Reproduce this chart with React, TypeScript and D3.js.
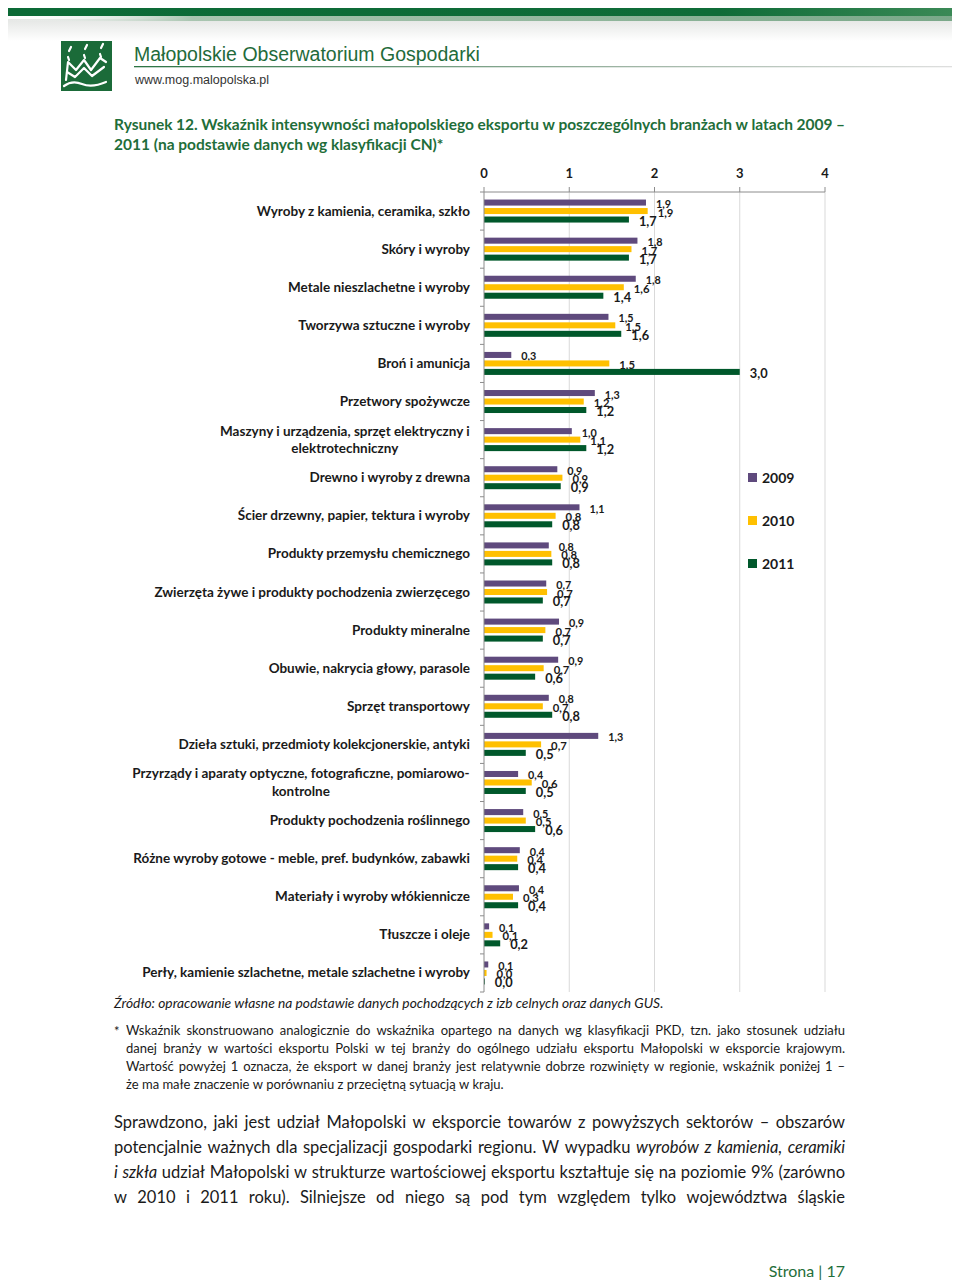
import * as d3 from "d3";

// --- data ---
const categories = [
  "Wyroby z kamienia, ceramika, szkło",
  "Skóry i wyroby",
  "Metale nieszlachetne i wyroby",
  "Tworzywa sztuczne i wyroby",
  "Broń i amunicja",
  "Przetwory spożywcze",
  "Maszyny i urządzenia, sprzęt elektryczny i\nelektrotechniczny",
  "Drewno i wyroby z drewna",
  "Ścier drzewny, papier, tektura i wyroby",
  "Produkty przemysłu chemicznego",
  "Zwierzęta żywe i produkty pochodzenia zwierzęcego",
  "Produkty mineralne",
  "Obuwie, nakrycia głowy, parasole",
  "Sprzęt transportowy",
  "Dzieła sztuki, przedmioty kolekcjonerskie, antyki",
  "Przyrządy i aparaty optyczne, fotograficzne, pomiarowo-\nkontrolne",
  "Produkty pochodzenia roślinnego",
  "Różne wyroby gotowe - meble, pref. budynków, zabawki",
  "Materiały i wyroby włókiennicze",
  "Tłuszcze i oleje",
  "Perły, kamienie szlachetne, metale szlachetne i wyroby",
];
const v2009 = [1.9, 1.8, 1.78, 1.46, 0.32, 1.3, 1.03, 0.86, 1.12, 0.76, 0.73, 0.88, 0.87, 0.76, 1.34, 0.4, 0.46, 0.42, 0.41, 0.06, 0.05];
const v2010 = [1.92, 1.73, 1.64, 1.54, 1.47, 1.17, 1.13, 0.92, 0.84, 0.79, 0.74, 0.72, 0.7, 0.69, 0.67, 0.56, 0.49, 0.39, 0.34, 0.1, 0.03];
const v2011 = [1.7, 1.7, 1.4, 1.61, 3.0, 1.2, 1.2, 0.9, 0.8, 0.8, 0.69, 0.69, 0.6, 0.8, 0.49, 0.49, 0.6, 0.4, 0.4, 0.19, 0.01];
const years = ["2009", "2010", "2011"];
const seriesValues = [v2009, v2010, v2011];
const colors = ["#5f4a7d", "#ffc000", "#00582b"];
const labelSizes = [10.8, 11.3, 12.8];
const xTicks = [0, 1, 2, 3, 4];

type Seg = { t: string; i?: boolean };

const titleLines: Seg[][] = [
  [{ t: "Rysunek 12. Wskaźnik intensywności małopolskiego eksportu w poszczególnych branżach w latach 2009 –" }],
  [{ t: "2011 (na podstawie danych wg klasyfikacji CN)*" }],
];
const noteLines: Seg[][] = [
  [{ t: "Wskaźnik skonstruowano analogicznie do wskaźnika opartego na danych wg klasyfikacji PKD, tzn. jako stosunek udziału" }],
  [{ t: "danej branży w wartości eksportu Polski w tej branży do ogólnego udziału eksportu Małopolski w eksporcie krajowym." }],
  [{ t: "Wartość powyżej 1 oznacza, że eksport w danej branży jest relatywnie dobrze rozwinięty w regionie, wskaźnik poniżej 1 –" }],
  [{ t: "że ma małe znaczenie w porównaniu z przeciętną sytuacją w kraju." }],
];
const bodyLines: Seg[][] = [
  [{ t: "Sprawdzono, jaki jest udział Małopolski w eksporcie towarów z powyższych sektorów – obszarów" }],
  [{ t: "potencjalnie ważnych dla specjalizacji gospodarki regionu. W wypadku" }, { t: "wyrobów z kamienia, ceramiki", i: true }],
  [{ t: "i szkła", i: true }, { t: "udział Małopolski w strukturze wartościowej eksportu kształtuje się na poziomie 9% (zarówno" }],
  [{ t: "w 2010 i 2011 roku). Silniejsze od niego są pod tym względem tylko województwa śląskie" }],
];

const FONT = "Lato, 'Open Sans', sans-serif";

const ctx = document.createElement("canvas").getContext("2d")!;
const measure = (t: string, font: string) => {
  ctx.font = font;
  return ctx.measureText(t).width;
};

// justified paragraph, words placed one by one
function Paragraph(props: {
  lines: Seg[][]; x: number; y: number; lh: number; width: number; size: number;
  weight?: number; color?: string; justifyLast?: boolean;
}) {
  const { lines, x, y, lh, width, size, weight = 400, color = "#1a1a1a", justifyLast = false } = props;
  const font = (it: boolean, s: number) => `${it ? "italic " : ""}${weight} ${s}px Lato`;
  const words = lines.map((l) =>
    l.flatMap((seg) => seg.t.split(" ").filter((w) => w).map((w) => ({ w, i: !!seg.i })))
  );
  let s = size;
  words.forEach((ws, li) => {
    if (li === lines.length - 1 && !justifyLast) return;
    const nat = d3.sum(ws, (d) => measure(d.w, font(d.i, size))) + (ws.length - 1) * measure(" ", font(false, size)) * 0.7;
    if (nat > width) s = Math.min(s, (size * width) / nat);
  });
  return (
    <g fill={color} fontFamily={FONT} fontSize={s} fontWeight={weight}>
      {words.map((ws, li) => {
        const widths = ws.map((d) => measure(d.w, font(d.i, s)));
        const justify = li < lines.length - 1 || justifyLast;
        const gap = justify ? (width - d3.sum(widths)) / (ws.length - 1) : measure(" ", font(false, s));
        let cx = x;
        return ws.map((d, wi) => {
          const px = cx;
          cx += widths[wi] + gap;
          return (
            <text key={li + "-" + wi} x={px} y={y + li * lh} fontStyle={d.i ? "italic" : "normal"}>
              {d.w}
            </text>
          );
        });
      })}
    </g>
  );
}

const App = () => {
  const x = d3.scaleLinear().domain([0, 4]).range([484, 825]);
  const y = d3.scaleBand<string>().domain(categories).range([192, 992]);
  const inner = d3.scaleBand<string>().domain(years).range([-11.5, 11.5]).paddingInner(0.29);
  const fmt = (v: number) => v.toFixed(1).replace(".", ",");
  const legendY = d3.scalePoint<string>().domain(years).range([478, 564]);
  const catFont = "700 13.5px Lato";

  return (
    <svg width={960} height={1282} style={{ display: "block", margin: "-8px 0 0 -8px" }}>
      <defs>
        <linearGradient id="band" x1="0" x2="1" y1="0" y2="0">
          <stop offset="0" stopColor="#0c6a36" />
          <stop offset="0.75" stopColor="#0f6c38" />
          <stop offset="1" stopColor="#3c8a57" />
        </linearGradient>
        <linearGradient id="fringe" x1="0" x2="1" y1="0" y2="0">
          <stop offset="0" stopColor="#ffffff" stopOpacity="0" />
          <stop offset="0.2" stopColor="#a9c5b0" />
          <stop offset="1" stopColor="#7aa889" />
        </linearGradient>
        <linearGradient id="shade" x1="0" x2="0" y1="0" y2="1">
          <stop offset="0" stopColor="#e4e6e4" />
          <stop offset="1" stopColor="#ffffff" />
        </linearGradient>
        <linearGradient id="rule" x1="0" x2="1" y1="0" y2="0">
          <stop offset="0" stopColor="#2c7444" />
          <stop offset="0.6" stopColor="#9fb5a5" />
          <stop offset="1" stopColor="#e0e0e0" />
        </linearGradient>
      </defs>

      {/* header */}
      <rect x={0} y={0} width={960} height={1282} fill="#fff" />
      <rect x={0} y={19} width={960} height={22} fill="url(#shade)" />
      <rect x={0} y={15} width={960} height={6} fill="url(#fringe)" />
      <rect x={0} y={0} width={960} height={16} fill="url(#band)" />
      <rect x={0} y={0} width={960} height={2} fill="#2f8a52" opacity={0.6} />

      <rect x={61} y={41} width={51} height={50} fill="#1b6b39" />
      <g stroke="#fff" strokeWidth={2.2} fill="none" strokeLinecap="round" strokeLinejoin="round">
        <path d="M69 51 l2 -4 M85 49 l2 -4 M101 48 l2 -4" />
        <path d="M68 57 l1 3 M84 55 l1 3 M100 54 l1 3" />
        <path d="M66 80 L68 62 L76 70 L84 60 L91 70 L100 58 L106 62" />
        <path d="M67 72 L75 77 L84 68 L92 76 L104 67" />
        <path d="M64 86 Q72 80 82 84 T106 82" />
      </g>
      <text x={134} y={61} fontFamily="'Liberation Sans', Arial, sans-serif" fontSize={19.5} fill="#1f6b3b">
        Małopolskie Obserwatorium Gospodarki
      </text>
      <rect x={134} y={66} width={826} height={1.3} fill="url(#rule)" />
      <text x={135} y={84} fontFamily="'Liberation Sans', Arial, sans-serif" fontSize={12.5} fill="#333">
        www.mog.malopolska.pl
      </text>

      {/* title */}
      <Paragraph lines={titleLines} x={114} y={130} lh={19.5} width={731} size={15.5} weight={700} color="#1f6e3a" />

      {/* grid */}
      {xTicks.filter((t) => t > 0).map((t) => (
        <line key={t} x1={x(t)} x2={x(t)} y1={192} y2={992} stroke="#d9d9d9" strokeWidth={1} />
      ))}

      {/* top axis */}
      <line x1={x(0)} x2={x(4)} y1={192} y2={192} stroke="#8c8c8c" />
      {xTicks.map((t) => (
        <g key={t}>
          <line x1={x(t)} x2={x(t)} y1={187} y2={192} stroke="#8c8c8c" />
          <text x={x(t)} y={178} textAnchor="middle" fontFamily={FONT} fontWeight={700} fontSize={13} fill="#1a1a1a">
            {t}
          </text>
        </g>
      ))}

      {/* bars */}
      {seriesValues.map((vals, si) =>
        vals.map((v, ci) => {
          const c = categories[ci];
          const cy = (y(c) as number) + y.bandwidth() / 2;
          const by = cy + (inner(years[si]) as number);
          return (
            <g key={si + "-" + ci}>
              <rect x={x(0)} y={by} width={x(v) - x(0)} height={inner.bandwidth()} fill={colors[si]} />
              <text
                x={x(v) + 10}
                y={by + inner.bandwidth() / 2 + 1}
                dominantBaseline="central"
                fontFamily={FONT}
                fontWeight={700}
                fontSize={labelSizes[si]}
                fill="#1a1a1a"
              >
                {fmt(v)}
              </text>
            </g>
          );
        })
      )}

      {/* left axis */}
      <line x1={x(0)} x2={x(0)} y1={192} y2={992} stroke="#8c8c8c" />
      {categories.map((c) => (
        <line key={c} x1={x(0) - 4} x2={x(0)} y1={y(c)} y2={y(c)} stroke="#8c8c8c" />
      ))}
      <line x1={x(0) - 4} x2={x(0)} y1={992} y2={992} stroke="#8c8c8c" />

      {/* category labels */}
      {categories.map((c) => {
        const cy = (y(c) as number) + y.bandwidth() / 2;
        const parts = c.split("\n");
        if (parts.length === 1) {
          return (
            <text key={c} x={470} y={cy + 4.5} textAnchor="end" fontFamily={FONT} fontWeight={700} fontSize={13.5} fill="#1a1a1a">
              {c}
            </text>
          );
        }
        const w = measure(parts[0], catFont);
        const mid = 470 - w / 2;
        return (
          <text key={c} textAnchor="middle" fontFamily={FONT} fontWeight={700} fontSize={13.5} fill="#1a1a1a">
            <tspan x={mid} y={cy - 4}>{parts[0]}</tspan>
            <tspan x={mid} y={cy + 13.5}>{parts[1]}</tspan>
          </text>
        );
      })}

      {/* legend */}
      {years.map((yr, i) => (
        <g key={yr}>
          <rect x={748} y={(legendY(yr) as number) - 5} width={9} height={9} fill={colors[i]} />
          <text x={762} y={(legendY(yr) as number) + 5} fontFamily={FONT} fontWeight={700} fontSize={14} fill="#1a1a1a">
            {yr}
          </text>
        </g>
      ))}

      {/* source and notes */}
      <text x={114} y={1008} fontFamily={FONT} fontStyle="italic" fontSize={13.8} fill="#1a1a1a">
        Źródło: opracowanie własne na podstawie danych pochodzących z izb celnych oraz danych GUS.
      </text>
      <text x={114} y={1036} fontFamily={FONT} fontSize={13} fill="#1a1a1a">*</text>
      <Paragraph lines={noteLines} x={126} y={1035} lh={18} width={719} size={13} />

      <Paragraph lines={bodyLines} x={114} y={1128} lh={25} width={731} size={16.5} justifyLast />

      <text x={845} y={1277} textAnchor="end" fontFamily={FONT} fontSize={16} fill="#1f6e3a">
        Strona | 17
      </text>
    </svg>
  );
};

export default App;
